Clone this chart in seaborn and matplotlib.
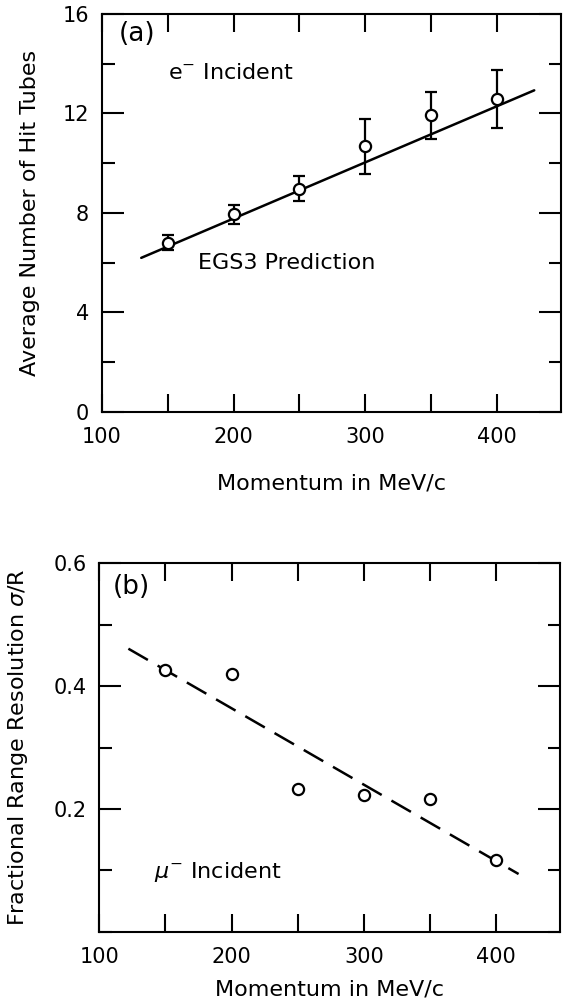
import numpy as np
import pandas as pd
import seaborn as sns
import matplotlib.pyplot as plt
from matplotlib.ticker import MultipleLocator

# (a) electrons: average number of hit tubes
mom_a = [150, 200, 250, 300, 350, 400]
hits = [6.8, 7.95, 8.97, 10.67, 11.92, 12.58]
hits_err = [0.3, 0.38, 0.5, 1.1, 0.95, 1.15]
pred_x = [130, 428]
pred_y = [6.19, 12.93]

# (b) muons: fractional range resolution
mom_b = [150, 200, 250, 300, 350, 400]
resol = [0.427, 0.419, 0.233, 0.223, 0.216, 0.117]
fit_x = [122, 417]
fit_y = [0.461, 0.094]

sns.set_theme(style="ticks")
plt.rcParams['font.family'] = ['DejaVu Sans']
plt.rcParams['mathtext.fontset'] = 'dejavusans'
plt.rcParams['text.color'] = 'black'
plt.rcParams['axes.labelcolor'] = 'black'
plt.rcParams['xtick.color'] = 'black'
plt.rcParams['ytick.color'] = 'black'

fig = plt.figure(figsize=(5.68, 10.01), dpi=100)
ax1 = fig.add_axes([0.179, 0.5887, 0.808, 0.3973])
ax2 = fig.add_axes([0.1748, 0.0692, 0.8104, 0.368])

df_a = pd.DataFrame({'p': mom_a, 'n': hits})
df_pred = pd.DataFrame({'p': pred_x, 'n': pred_y})
df_b = pd.DataFrame({'p': mom_b, 'r': resol})
df_fit = pd.DataFrame({'p': fit_x, 'r': fit_y})

# panel a
sns.lineplot(data=df_pred, x='p', y='n', ax=ax1, color='black', lw=1.8, zorder=2)
ax1.errorbar(mom_a, hits, yerr=hits_err, fmt='none', ecolor='black',
             elinewidth=1.6, capsize=4, capthick=1.6, zorder=3)
sns.scatterplot(data=df_a, x='p', y='n', ax=ax1, marker='o', s=65,
                facecolor='white', edgecolor='black', linewidth=1.6, zorder=4)
ax1.set_xlim(100, 448)
ax1.xaxis.set_major_locator(MultipleLocator(100))
ax1.xaxis.set_minor_locator(MultipleLocator(50))
ax1.set_yticks([0, 4, 8, 12, 16])
ax1.set_yticklabels(['0', '4', '8', '12', '16'])
ax1.yaxis.set_minor_locator(MultipleLocator(2))
ax1.set_ylim(0, 16)
ax1.set_xlabel('Momentum in MeV/c', fontsize=16)
ax1.set_ylabel('Average Number of Hit Tubes', fontsize=16)
ax1.xaxis.set_label_coords(0.5, -0.155)
ax1.yaxis.set_label_coords(-0.135, 0.5)
ax1.text(113, 15.2, '(a)', fontsize=19, va='center', ha='left')
ax1.text(150, 13.64, 'e$^{-}$ Incident', fontsize=16, va='center', ha='left')
ax1.text(173, 5.99, 'EGS3 Prediction', fontsize=16, va='center', ha='left')

# panel b
sns.lineplot(data=df_fit, x='p', y='r', ax=ax2, color='black', lw=1.8,
             dashes=False, zorder=2)
ax2.lines[-1].set_dashes([9, 4.5])
sns.scatterplot(data=df_b, x='p', y='r', ax=ax2, marker='o', s=65,
                facecolor='white', edgecolor='black', linewidth=1.6, zorder=4)
ax2.set_xlim(100, 448)
ax2.xaxis.set_major_locator(MultipleLocator(100))
ax2.xaxis.set_minor_locator(MultipleLocator(50))
ax2.set_yticks([0.2, 0.4, 0.6])
ax2.set_yticklabels(['0.2', '0.4', '0.6'])
ax2.yaxis.set_minor_locator(MultipleLocator(0.1))
ax2.set_ylim(0, 0.6)
ax2.set_xlabel('Momentum in MeV/c', fontsize=16)
ax2.set_ylabel('Fractional Range Resolution $\\sigma$/R', fontsize=16)
ax2.xaxis.set_label_coords(0.5, -0.13)
ax2.yaxis.set_label_coords(-0.15, 0.5)
ax2.text(110, 0.562, '(b)', fontsize=19, va='center', ha='left')
ax2.text(141, 0.0965, '$\\mu^{-}$ Incident', fontsize=16, va='center', ha='left')

for ax in (ax1, ax2):
    for sp in ax.spines.values():
        sp.set_linewidth(1.5)
        sp.set_color('black')
    ax.tick_params(which='both', direction='in', top=True, right=True,
                   width=1.5, color='black', labelsize=15)
    ax.tick_params(axis='x', which='both', length=13, pad=11)
    ax.tick_params(axis='y', which='major', length=16, pad=9)
    ax.tick_params(axis='y', which='minor', length=9)
    ax.set_facecolor('white')

fig.savefig('out.png', dpi=100, facecolor='white')
